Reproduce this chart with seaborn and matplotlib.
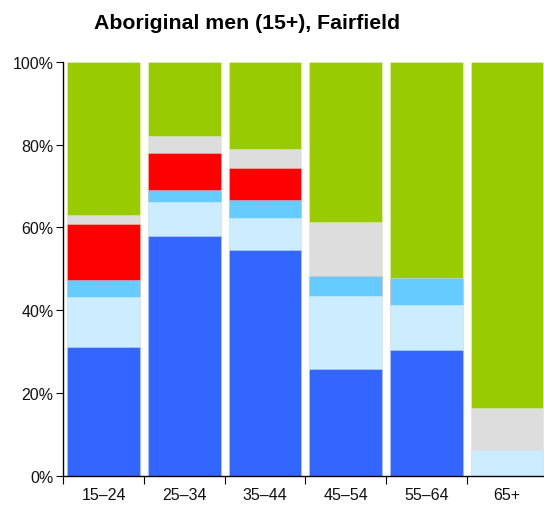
import numpy as np
import pandas as pd
import matplotlib
matplotlib.use("Agg")
import matplotlib.pyplot as plt
import seaborn as sns

categories = ["15–24", "25–34", "35–44", "45–54", "55–64", "65+"]
series_names = ["Employed full-time", "Employed part-time", "Employed, away from work",
                "Unemployed", "Not stated", "Not in the labour force"]
full_time = [31.1, 57.9, 54.5, 25.8, 30.4, 0.0]
part_time = [12.2, 8.2, 7.7, 17.7, 10.9, 6.2]
away = [4.1, 2.9, 4.5, 4.8, 6.6, 0.0]
unemployed = [13.4, 9.0, 7.6, 0.0, 0.0, 0.0]
not_stated = [2.2, 4.1, 4.6, 13.0, 0.0, 10.1]
not_in_lf = [37.0, 17.9, 21.1, 38.7, 52.1, 83.7]
colors = ["#3366FF", "#CCECFF", "#66CCFF", "#FF0000", "#DDDDDD", "#99CC00"]
yticks = [0, 20, 40, 60, 80, 100]
ytick_labels = ["0%", "20%", "40%", "60%", "80%", "100%"]
title = "Aboriginal men (15+), Fairfield"

sns.set_style("ticks")
plt.rcParams["font.family"] = ["Liberation Sans", "DejaVu Sans"]
plt.rcParams["text.color"] = "black"
plt.rcParams["xtick.color"] = "black"
plt.rcParams["ytick.color"] = "black"

series = [full_time, part_time, away, unemployed, not_stated, not_in_lf]
vals = np.array(series)
cum = np.cumsum(vals, axis=0)
cum = cum / cum[-1] * 100

fig = plt.figure(figsize=(5.44, 5.06), dpi=100)
W, H = 544, 506
ax = fig.add_axes([63.3 / W, 29 / H, 484 / W, 414.3 / H])

for i in range(len(series) - 1, -1, -1):
    df = pd.DataFrame({"cat": categories, "val": cum[i]})
    sns.barplot(data=df, x="cat", y="val", order=categories, color=colors[i],
                saturation=1, width=0.9, ax=ax,
                edgecolor=(1, 1, 1, 0.4), linewidth=0.5)

ax.set_xlim(-0.5, 5.5)
ax.set_ylim(0, 100)
ax.set_yticks(yticks)
ax.set_yticklabels(ytick_labels, fontsize=11.5, color="#111111")
ax.set_xticks(range(len(categories)))
ax.set_xticklabels(categories, fontsize=11.5, color="#111111")
ax.tick_params(axis="x", which="major", length=0, pad=8)
ax.set_xticks(np.arange(-0.5, 6.0, 1.0), minor=True)
ax.tick_params(axis="x", which="minor", length=6, width=0.8, direction="out", color="black")
ax.tick_params(axis="y", length=5, width=0.8, direction="out", pad=2, color="black")
ax.set_xlabel("")
ax.set_ylabel("")
for s in ["top", "right"]:
    ax.spines[s].set_visible(False)
for s in ["left", "bottom"]:
    ax.spines[s].set_color("black")
    ax.spines[s].set_linewidth(1.0)

fig.text(247.5 / W, 1 - 24 / H, title, ha="center", va="center",
         fontsize=15.3, fontweight="bold", color="black")

fig.savefig("out.png", dpi=100)
